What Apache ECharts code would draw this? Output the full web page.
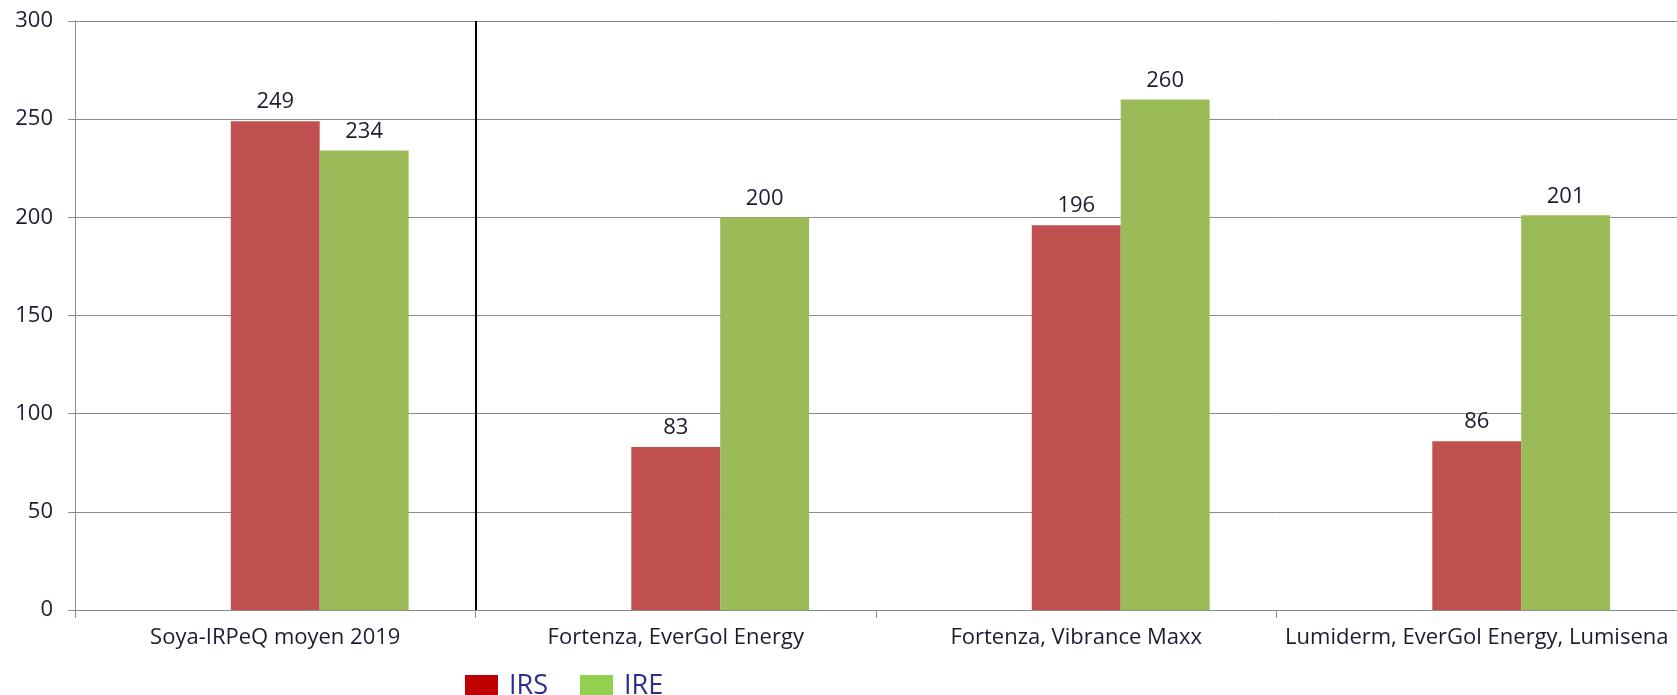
<!DOCTYPE html>
<html>
<head>
<meta charset="utf-8">
<script src="https://cdn.jsdelivr.net/npm/echarts@6/dist/echarts.min.js"></script>
<style>
	html, body { margin: 0; padding: 0; background: #fff; }
	#chart { width: 1677px; height: 695px; }
</style>
</head>
<body>
<div id="chart"></div>
<script>
const categories = ['Soya-IRPeQ moyen 2019', 'Fortenza, EverGol Energy', 'Fortenza, Vibrance Maxx', 'Lumiderm, EverGol Energy, Lumisena'];
const irs = [249, 83, 196, 86];
const ire = [234, 200, 260, 201];
// empty slot: the source chart keeps a third (empty) bar position left of the pair
const blankSlot = ['-', '-', '-', '-'];
const yTicks = { min: 0, max: 300, interval: 50 };
const separatorAt = [1];

const txt = '#1c1c30';
const gridCol = '#8c8c8c';

const chart = echarts.init(document.getElementById('chart'));

const barLabel = {
	show: true,
	position: 'top',
	distance: 8,
	color: txt,
	fontFamily: 'Open Sans',
	fontSize: 22
};

chart.setOption({
	animation: false,
	grid: { left: 75, top: 21, width: 1605, height: 589 },
	legend: {
		left: 460,
		top: 668,
		itemWidth: 33,
		itemHeight: 33,
		itemGap: 32,
		icon: 'rect',
		formatter: '{t|{name}}',
		textStyle: {
			color: '#2b3088',
			rich: {
				t: { color: '#2b3088', fontFamily: 'Open Sans', fontSize: 27, padding: [0, 0, 10, 6] }
			}
		},
		data: [
			{ name: 'IRS', itemStyle: { color: '#c00000' } },
			{ name: 'IRE', itemStyle: { color: '#92d050' } }
		]
	},
	xAxis: [
		{
			type: 'category',
			data: categories,
			axisLine: { lineStyle: { color: gridCol, width: 1 } },
			axisTick: { show: true, length: 8, interval: 0, lineStyle: { color: gridCol } },
			axisLabel: { color: txt, fontFamily: 'Open Sans', fontSize: 22, margin: 17, interval: 0 }
		},
		{ type: 'value', min: 0, max: categories.length, show: false }
	],
	yAxis: {
		type: 'value',
		min: yTicks.min,
		max: yTicks.max,
		interval: yTicks.interval,
		axisLine: { show: true, lineStyle: { color: gridCol, width: 1 } },
		axisTick: { show: true, inside: false, length: 7, lineStyle: { color: gridCol } },
		axisLabel: { color: txt, fontFamily: 'Open Sans', fontSize: 22, margin: 22 },
		splitLine: { show: true, lineStyle: { color: gridCol, width: 1 } }
	},
	series: [
		{
			name: 'blank',
			type: 'bar',
			data: blankSlot,
			barGap: '0%',
			barCategoryGap: '33.4%'
		},
		{
			name: 'IRS',
			type: 'bar',
			data: irs,
			barGap: '0%',
			barCategoryGap: '33.4%',
			itemStyle: { color: '#c0504d' },
			label: barLabel
		},
		{
			name: 'IRE',
			type: 'bar',
			data: ire,
			barGap: '0%',
			barCategoryGap: '33.4%',
			itemStyle: { color: '#9bbb59' },
			label: barLabel
		},
		{
			name: 'separator',
			type: 'line',
			xAxisIndex: 1,
			yAxisIndex: 0,
			data: [],
			markLine: {
				silent: true,
				symbol: 'none',
				label: { show: false },
				lineStyle: { color: '#000', width: 2, type: 'solid' },
				data: separatorAt.map(v => ({ xAxis: v }))
			}
		}
	]
});
</script>
</body>
</html>
